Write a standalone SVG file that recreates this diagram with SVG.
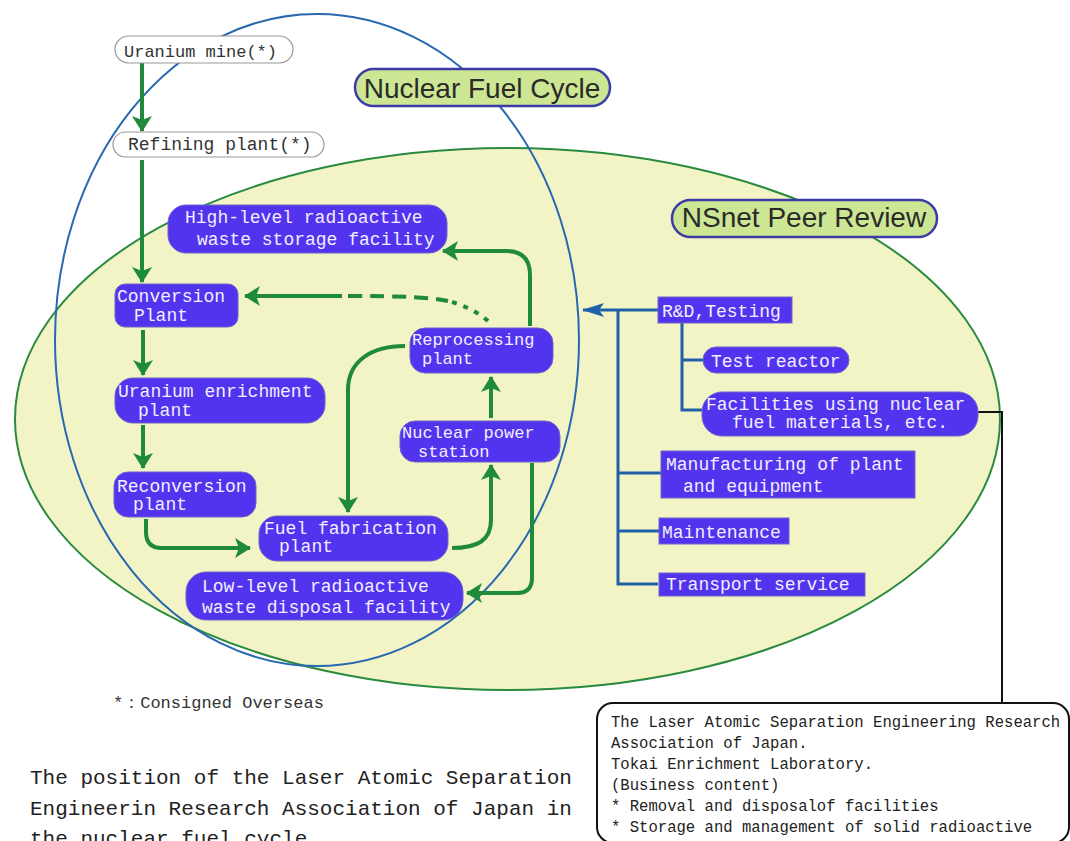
<svg xmlns="http://www.w3.org/2000/svg" width="1070" height="841" viewBox="0 0 1070 841">
<defs>
<style>
.node{fill:#5234ee;stroke:#6e62c8;stroke-width:1}
.nt{font-family:"Liberation Mono","DejaVu Sans Mono",monospace;font-size:18px;fill:#f2eeff}
.sm{font-size:17px}
.top{fill:#ffffff;stroke:#9a9a9a;stroke-width:1.2}
.tt{font-family:"Liberation Mono","DejaVu Sans Mono",monospace;font-size:18px;fill:#333333}
.lbl{fill:#cde693;stroke:#3c3ca6;stroke-width:2.5}
.lt{font-family:"Liberation Sans",Arial,sans-serif;font-size:28px;fill:#2a2a2a}
.g{fill:none;stroke:#1f8a3b;stroke-width:4}
.b{fill:none;stroke:#2060a8;stroke-width:3}
.k{fill:none;stroke:#111111;stroke-width:2}
.bt{font-family:"Liberation Mono","DejaVu Sans Mono",monospace;font-size:15.6px;fill:#222222}
.ft{font-family:"Liberation Mono","DejaVu Sans Mono",monospace;font-size:21px;fill:#222222}
</style>
<marker id="ga" viewBox="0 0 16 20" refX="15" refY="10" markerWidth="16" markerHeight="20" markerUnits="userSpaceOnUse" orient="auto">
<path d="M0,0 L16,10 L0,20 L4,10 z" fill="#1f8a3b"/>
</marker>
<marker id="ba" viewBox="0 0 22 14" refX="21" refY="7" markerWidth="22" markerHeight="14" markerUnits="userSpaceOnUse" orient="auto">
<path d="M0,0 L22,7 L0,14 L5,7 z" fill="#2060a8"/>
</marker>
</defs>
<rect x="0" y="0" width="1070" height="841" fill="#ffffff"/>

<g id="nsnet-area">
<ellipse cx="507.5" cy="419" rx="492.5" ry="271" fill="#f2f4c6" stroke="#2a8a3e" stroke-width="2"/>
</g>
<g id="fuel-cycle-area">
<ellipse cx="317" cy="340" rx="262" ry="326" fill="none" stroke="#2868b0" stroke-width="2"/>
</g>

<g id="connectors">
<path class="g" d="M142,63 L142,131" marker-end="url(#ga)"/>
<path class="g" d="M142,160 L142,282" marker-end="url(#ga)"/>
<path class="g" d="M143,330 L143,375" marker-end="url(#ga)"/>
<path class="g" d="M143,425 L143,468" marker-end="url(#ga)"/>
<path class="g" d="M146,519 L146,532 Q146,548 162,548 L250,548" marker-end="url(#ga)"/>
<path class="g" d="M452,548 C478,548 491,540 491,520 L491,465" marker-end="url(#ga)"/>
<path class="g" d="M491,418 L491,377" marker-end="url(#ga)"/>
<path class="g" d="M405,346 C370,346 348,362 348,390 L348,512" marker-end="url(#ga)"/>
<path class="g" d="M530,326 L530,275 Q530,251 506,251 L443,251" marker-end="url(#ga)"/>
<path class="g" d="M532,463 L532,578 Q532,593 517,593 L467,593" marker-end="url(#ga)"/>
<path class="g" d="M342,296 L245,296" marker-end="url(#ga)"/>
<path class="g" d="M348,296 C400,296 430,297 448,301" stroke-dasharray="14 8"/>
<path class="g" d="M452,302 C465,306 478,312 488,321" stroke-dasharray="5 7"/>
<path class="b" d="M658,310 L583,310" marker-end="url(#ba)"/>
<path class="b" d="M618,310 L618,584 L658,584"/>
<path class="b" d="M618,473 L661,473"/>
<path class="b" d="M618,531 L659,531"/>
<path class="b" d="M682,323 L682,410 L702,410"/>
<path class="b" d="M682,360 L703,360"/>
<path class="k" d="M978,412 L1002,412 L1002,703"/>
</g>

<g id="label-nuclear-fuel-cycle">
<rect class="lbl" x="355" y="69" width="255" height="37" rx="18.5"/>
<text class="lt" x="482" y="98" text-anchor="middle">Nuclear Fuel Cycle</text>
</g>
<g id="label-nsnet">
<rect class="lbl" x="672" y="200" width="265" height="37" rx="18.5"/>
<text class="lt" x="804" y="227" text-anchor="middle">NSnet Peer Review</text>
</g>

<g id="uranium-mine">
<rect class="top" x="115" y="36" width="178" height="27" rx="13.5"/>
<text class="tt" x="124" y="57" style="font-size:17px">Uranium mine(*)</text>
</g>
<g id="refining-plant">
<rect class="top" x="113" y="132" width="211" height="25" rx="12.5"/>
<text class="tt" x="128" y="150">Refining plant(*)</text>
</g>
<g id="high-level">
<rect class="node" x="168" y="205" width="279" height="48" rx="18"/>
<text class="nt" x="185" y="223">High-level radioactive</text>
<text class="nt" x="197" y="245">waste storage facility</text>
</g>
<g id="conversion">
<rect class="node" x="115" y="284" width="123" height="43" rx="10"/>
<text class="nt" x="117" y="302">Conversion</text>
<text class="nt" x="134" y="321">Plant</text>
</g>
<g id="uranium-enrichment">
<rect class="node" x="115" y="378" width="210" height="45" rx="18"/>
<text class="nt" x="118" y="397">Uranium enrichment</text>
<text class="nt" x="138" y="416">plant</text>
</g>
<g id="reconversion">
<rect class="node" x="114" y="472" width="142" height="45" rx="14"/>
<text class="nt" x="117" y="492">Reconversion</text>
<text class="nt" x="133" y="510">plant</text>
</g>
<g id="reprocessing">
<rect class="node" x="410" y="328" width="143" height="45" rx="15"/>
<text class="nt sm" x="412" y="345">Reprocessing</text>
<text class="nt sm" x="422" y="364">plant</text>
</g>
<g id="nuclear-power">
<rect class="node" x="400" y="421" width="160" height="41" rx="15"/>
<text class="nt sm" x="402" y="438">Nuclear power</text>
<text class="nt sm" x="418" y="457">station</text>
</g>
<g id="fuel-fabrication">
<rect class="node" x="259" y="516" width="189" height="45" rx="18"/>
<text class="nt" x="264" y="534">Fuel fabrication</text>
<text class="nt" x="279" y="552">plant</text>
</g>
<g id="low-level">
<rect class="node" x="186" y="572" width="277" height="48" rx="20"/>
<text class="nt" x="202" y="592">Low-level radioactive</text>
<text class="nt" x="202" y="613">waste disposal facility</text>
</g>

<g id="rd-testing">
<rect class="node" x="658" y="297" width="134" height="26"/>
<text class="nt" x="662" y="317">R&amp;D,Testing</text>
</g>
<g id="test-reactor">
<rect class="node" x="703" y="347" width="146" height="26" rx="13"/>
<text class="nt" x="711" y="367">Test reactor</text>
</g>
<g id="facilities">
<rect class="node" x="702" y="392" width="276" height="44" rx="20"/>
<text class="nt" x="706" y="410">Facilities using nuclear</text>
<text class="nt" x="732" y="428">fuel materials, etc.</text>
</g>
<g id="manufacturing">
<rect class="node" x="661" y="451" width="254" height="47"/>
<text class="nt" x="666" y="470">Manufacturing of plant</text>
<text class="nt" x="683" y="492">and equipment</text>
</g>
<g id="maintenance">
<rect class="node" x="659" y="518" width="130" height="26"/>
<text class="nt" x="662" y="538">Maintenance</text>
</g>
<g id="transport">
<rect class="node" x="659" y="573" width="206" height="23"/>
<text class="nt" x="666" y="590">Transport service</text>
</g>

<g id="note-box">
<rect x="597" y="703" width="472" height="140" rx="16" fill="#ffffff" stroke="#111111" stroke-width="2"/>
<text class="bt" x="611" y="727">The Laser Atomic Separation Engineering Research</text>
<text class="bt" x="611" y="748">Association of Japan.</text>
<text class="bt" x="611" y="769">Tokai Enrichment Laboratory.</text>
<text class="bt" x="611" y="790">(Business content)</text>
<text class="bt" x="611" y="811">* Removal and disposalof facilities</text>
<text class="bt" x="611" y="832">* Storage and management of solid radioactive</text>
</g>

<g id="footnote">
<text class="tt" x="113" y="708" style="font-size:17px">*：Consigned Overseas</text>
</g>
<g id="caption">
<text class="ft" x="30" y="784">The position of the Laser Atomic Separation</text>
<text class="ft" x="30" y="815">Engineerin Research Association of Japan in</text>
<text class="ft" x="30" y="845">the nuclear fuel cycle</text>
</g>
</svg>
